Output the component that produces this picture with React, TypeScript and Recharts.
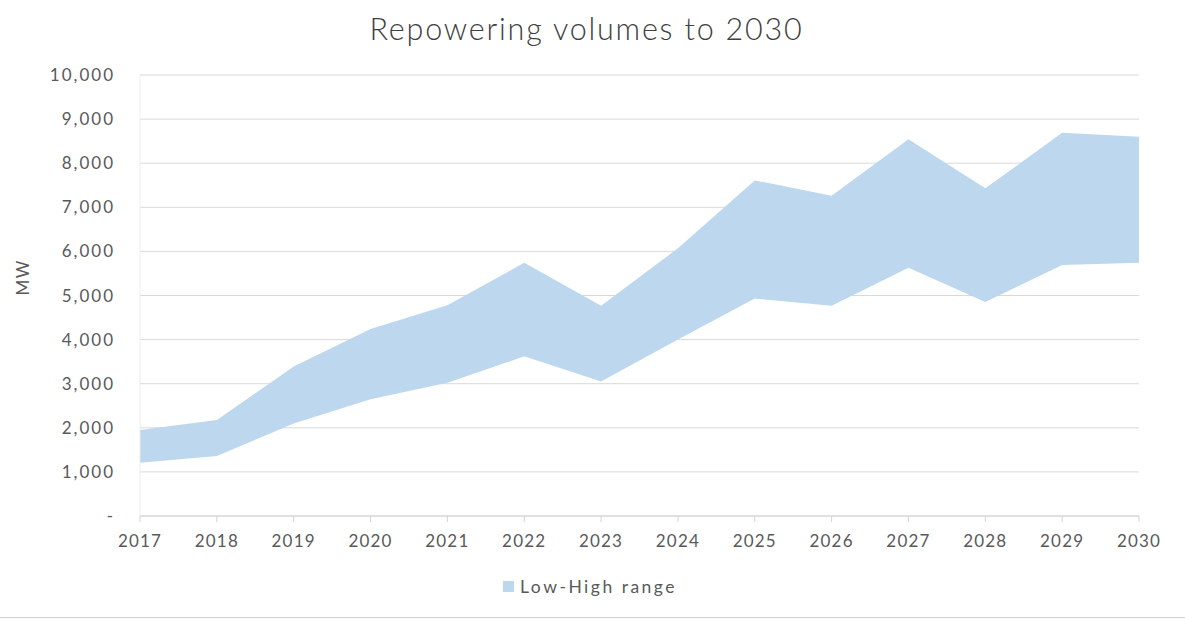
import React from "react";
import { AreaChart, Area, XAxis, YAxis, CartesianGrid } from "recharts";

const years = ["2017","2018","2019","2020","2021","2022","2023","2024","2025","2026","2027","2028","2029","2030"];
const lowValues = [1210, 1360, 2100, 2650, 3020, 3620, 3050, 4000, 4930, 4770, 5630, 4850, 5690, 5740];
const highValues = [1950, 2175, 3390, 4240, 4780, 5740, 4770, 6070, 7610, 7260, 8545, 7430, 8690, 8600];
const yTicks = [0, 1000, 2000, 3000, 4000, 5000, 6000, 7000, 8000, 9000, 10000];

const data = years.map((y, i) => ({ year: y, range: [lowValues[i], highValues[i]] }));

const FONT = "Lato, 'Noto Sans', sans-serif";
const TXT = "#595959";

const fmt = (v: number) => (v === 0 ? "-" : v.toLocaleString("en-US"));

export default function App() {
  return (
    <div style={{ position: "fixed", left: 0, top: 0, width: 1185, height: 621, background: "#fff", fontFamily: FONT, overflow: "hidden" }}>
      <div style={{ position: "absolute", left: 0, top: 10, width: 1173, textAlign: "center", fontSize: 30.5, fontWeight: 300, color: "#404040", letterSpacing: 1.8 }}>
        Repowering volumes to 2030
      </div>
      <AreaChart width={1185} height={621} data={data} margin={{ top: 75, right: 46, bottom: 75, left: 0 }}>
        <CartesianGrid vertical={false} stroke="#d9d9d9" />
        <XAxis
          dataKey="year"
          stroke="#d4d4d4"
          tickSize={6}
          tickMargin={13}
          height={30}
          tick={{ fill: TXT, fontSize: 17, fontFamily: FONT, letterSpacing: 1.2 }}
          interval={0}
        />
        <YAxis
          domain={[0, 10000]}
          ticks={yTicks}
          tickFormatter={fmt}
          width={140}
          axisLine={{ stroke: "#eeeeee" }}
          tickLine={false}
          tickSize={0}
          tickMargin={25}
          tick={{ fill: TXT, fontSize: 17, fontFamily: FONT, letterSpacing: 2 }}
          label={{ value: "MW", angle: -90, position: "insideLeft", dx: 18, fill: TXT, fontSize: 17, fontFamily: FONT, letterSpacing: 1.5 }}
        />
        <Area dataKey="range" type="linear" stroke="none" fill="#BDD7EE" fillOpacity={1} isAnimationActive={false} />
      </AreaChart>
      <div style={{ position: "absolute", left: 503, top: 576, display: "flex", alignItems: "center", fontSize: 17.5, color: TXT, letterSpacing: 2.5 }}>
        <span style={{ display: "inline-block", width: 11, height: 11, background: "#BDD7EE", marginRight: 6 }} />
        Low-High range
      </div>
      <div style={{ position: "absolute", left: 0, top: 617, width: 1185, height: 1, background: "#d0d0d0" }} />
    </div>
  );
}
